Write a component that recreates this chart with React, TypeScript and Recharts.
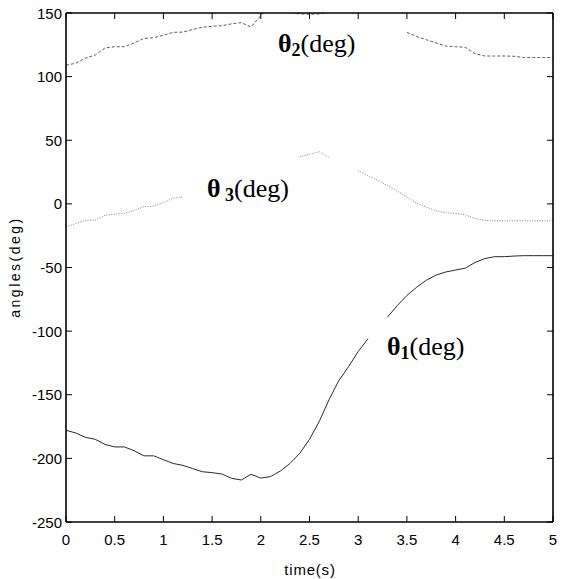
import React from 'react';
import { LineChart, Line, XAxis, YAxis, Customized } from 'recharts';

if (typeof document !== 'undefined') {
  document.body.style.margin = '0';
  document.body.style.overflow = 'hidden';
}

const time = [
  0, 0.1, 0.2, 0.3, 0.4, 0.5, 0.6, 0.7, 0.8, 0.9,
  1, 1.1, 1.2, 1.3, 1.4, 1.5, 1.6, 1.7, 1.8, 1.9,
  2, 2.1, 2.2, 2.3, 2.4, 2.5, 2.6, 2.7, 2.8, 2.9,
  3, 3.1, 3.2, 3.3, 3.4, 3.5, 3.6, 3.7, 3.8, 3.9,
  4, 4.1, 4.2, 4.3, 4.4, 4.5, 4.6, 4.7, 4.8, 4.9, 5,
];

const theta1 = [
  -178, -180, -183.5, -185, -189, -191, -191, -194, -198, -198,
  -201, -204, -205.5, -208, -210.5, -211.2, -212.3, -215.7, -217, -212.5,
  -215.5, -214.3, -210, -204, -196, -185, -171, -154, -139, -128,
  -116, -106, null, -89, -80, -72, -65.5, -60, -56, -53.5,
  -52, -50.5, -46, -43, -41.5, -41.5, -41, -40.7, -40.7, -40.7, -40.7,
];

const theta2 = [
  109, 110.5, 114.5, 117, 122.5, 123.5, 123.5, 126.5, 130, 130.6,
  132.5, 134.8, 135, 137, 138.8, 139.6, 140, 141.5, 142.4, 139,
  148, 156, 153, 150.5, 149.3, 149, 149.3, 151, 156, 158,
  157, 155, 153, null, null, 134.8, 131.5, 129, 126.5, 124,
  123.5, 123, 118, 116.2, 116.2, 116.2, 116, 115, 115, 115, 115,
];

const theta3 = [
  -18, -15.5, -13, -12.7, -9, -8, -7.5, -5, -2.2, -1.7,
  1, 4.4, 5.4, null, null, null, null, null, null, null,
  null, null, null, null, 37, 39, 41, 36.5, null, null,
  26, 22, 18.5, 14.5, 10, 5.5, 0.5, -2.5, -5.5, -7,
  -7.5, -8.5, -11.5, -13, -13.3, -13.3, -13.3, -13.3, -13.3, -13.3, -13.3,
];

const xTicks = [0, 0.5, 1, 1.5, 2, 2.5, 3, 3.5, 4, 4.5, 5];
const yTicks = [-250, -200, -150, -100, -50, 0, 50, 100, 150];

const data = time.map((t, i) => ({ t, a1: theta1[i], a2: theta2[i], a3: theta3[i] }));

const SANS = '"Liberation Sans", Arial, Helvetica, sans-serif';
const SERIF = '"Liberation Serif", "Times New Roman", serif';
const M = 2;
const TL = 6;
const AX = { stroke: '#000', strokeWidth: 1.6 };

const BottomTick = (p: any) => {
  const { x, y, payload } = p;
  const ay = y - M;
  return (
    <g>
      <line x1={x} x2={x} y1={ay} y2={ay - TL} stroke="#000" strokeWidth={1} />
      <text x={x} y={ay + 23} textAnchor="middle" fontSize={15} fontFamily={SANS} fill="#000">
        {payload.value}
      </text>
    </g>
  );
};

const TopTick = (p: any) => {
  const { x, y } = p;
  const ay = y + M;
  return <line x1={x} x2={x} y1={ay} y2={ay + TL} stroke="#000" strokeWidth={1} />;
};

const LeftTick = (p: any) => {
  const { x, y, payload } = p;
  const ax = x + M;
  return (
    <g>
      <line x1={ax} x2={ax + TL} y1={y} y2={y} stroke="#000" strokeWidth={1} />
      <text x={ax - 4} y={y + 5.5} textAnchor="end" fontSize={15} fontFamily={SANS} fill="#000">
        {payload.value}
      </text>
    </g>
  );
};

const RightTick = (p: any) => {
  const { x, y } = p;
  const ax = x - M;
  return <line x1={ax} x2={ax - TL} y1={y} y2={y} stroke="#000" strokeWidth={1} />;
};

const Annotations = () => (
  <g>
    <text x={15} y={267} transform="rotate(-90 15 267)" textAnchor="middle" dominantBaseline="central" fontSize={14} letterSpacing={2.5} fontFamily={SANS} fill="#000">
      angles(deg)
    </text>
    <text x={310} y={575} textAnchor="middle" fontSize={15} letterSpacing={0.8} fontFamily={SANS} fill="#000">
      time(s)
    </text>
    <text x={278} y={52} fontSize={26} fontFamily={SERIF} fill="#000">
      <tspan fontWeight="bold">θ</tspan>
      <tspan fontWeight="bold" fontSize={18} dy={4}>2</tspan>
      <tspan dy={-4}>(deg)</tspan>
    </text>
    <text x={207} y={197} fontSize={26} fontFamily={SERIF} fill="#000">
      <tspan fontWeight="bold">θ</tspan>
      <tspan fontWeight="bold" fontSize={18} dy={4}> 3</tspan>
      <tspan dy={-4}>(deg)</tspan>
    </text>
    <text x={387} y={355} fontSize={26} fontFamily={SERIF} fill="#000">
      <tspan fontWeight="bold">θ</tspan>
      <tspan fontWeight="bold" fontSize={18} dy={4}>1</tspan>
      <tspan dy={-4}>(deg)</tspan>
    </text>
  </g>
);

export default function App() {
  return (
    <LineChart
      width={565}
      height={579}
      data={data}
      margin={{ top: 12, right: 11, bottom: 17, left: 10 }}
    >
      <XAxis
        dataKey="t"
        type="number"
        domain={[0, 5]}
        ticks={xTicks}
        interval={0}
        height={40}
        axisLine={AX}
        tickLine={false}
        tickSize={0}
        tickMargin={M}
        tick={<BottomTick />}
      />
      <XAxis
        xAxisId="top"
        orientation="top"
        dataKey="t"
        type="number"
        domain={[0, 5]}
        ticks={xTicks}
        interval={0}
        height={1}
        axisLine={AX}
        tickLine={false}
        tickSize={0}
        tickMargin={M}
        tick={<TopTick />}
      />
      <YAxis
        type="number"
        domain={[-250, 150]}
        ticks={yTicks}
        interval={0}
        allowDataOverflow
        width={56}
        axisLine={AX}
        tickLine={false}
        tickSize={0}
        tickMargin={M}
        tick={<LeftTick />}
      />
      <YAxis
        yAxisId="right"
        orientation="right"
        type="number"
        domain={[-250, 150]}
        ticks={yTicks}
        interval={0}
        allowDataOverflow
        width={1}
        axisLine={AX}
        tickLine={false}
        tickSize={0}
        tickMargin={M}
        tick={<RightTick />}
      />
      <Line dataKey="a1" stroke="#2a2a2a" strokeWidth={1} dot={false} isAnimationActive={false} connectNulls={false} />
      <Line dataKey="a2" stroke="#5a5a5a" strokeWidth={1} strokeDasharray="3 2" dot={false} isAnimationActive={false} connectNulls={false} />
      <Line dataKey="a3" stroke="#808080" strokeWidth={1} strokeDasharray="1 1.5" dot={false} isAnimationActive={false} connectNulls={false} />
      <Customized component={Annotations} />
    </LineChart>
  );
}
